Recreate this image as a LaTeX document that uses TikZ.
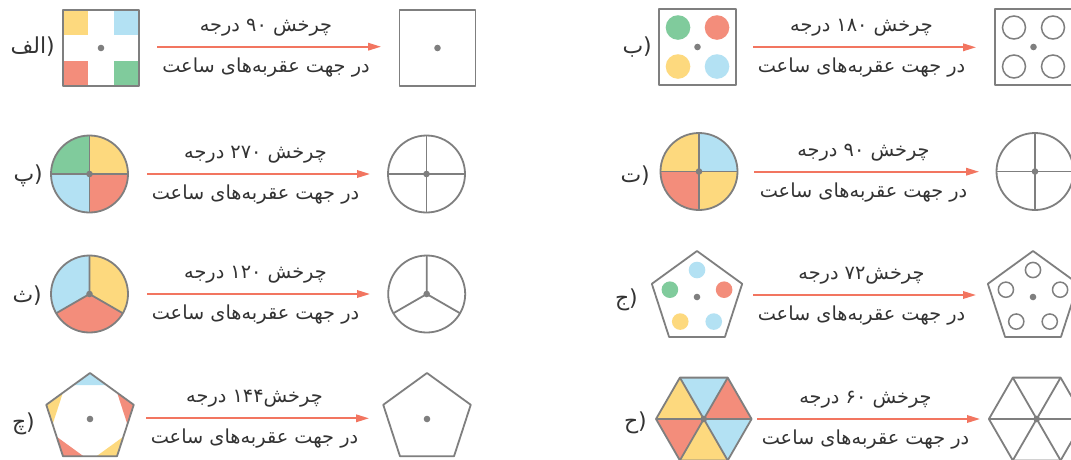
\documentclass[tikz,border=0pt]{standalone}
\usepackage{fontspec}
\newfontfamily\fa[Script=Arabic]{DejaVu Sans}
\TeXXeTstate=1
\usetikzlibrary{arrows.meta,calc}
\definecolor{cY}{HTML}{FDD97E}
\definecolor{cB}{HTML}{B3E1F3}
\definecolor{cR}{HTML}{F38D7B}
\definecolor{cG}{HTML}{80CB9C}
\definecolor{cK}{HTML}{7F7F7F}
\definecolor{cA}{HTML}{F27560}
\definecolor{cT}{HTML}{333333}
\tikzset{
 loc/.style={shift={#1},y=1pt},
 outl/.style={draw=cK,line width=1.8pt,line join=round},
 thinl/.style={draw=cK,line width=1.5pt},
 arr/.style={draw=cA,line width=1.8pt,-{Triangle[length=13pt,width=7.5pt]}},
 lab/.style={font=\fa\fontsize{22}{26}\selectfont,anchor=east,inner sep=0pt,text=cT},
 txt/.style={font=\fa\fontsize{19.3}{23}\selectfont,anchor=base,inner sep=0pt,text=cT},
}
\newcommand\ctrdot{\fill[cK] (0,0) circle[radius=3.3pt];}
\newcommand\rotarrow[5]{%
 \coordinate (#1s) at (#2,#4);
 \coordinate (#1e) at (#3,#4);
 \draw[arr] (#1s) -- (#1e);
 \node[txt] (#1t) at ({(#2+#3)/2-3},{#4-15.5}) {#5};
 \node[txt] (#1b) at ({(#2+#3)/2-3},{#4+25.5}) {\beginR در جهت عقربه‌های ساعت\endR};
}
\begin{document}
\begin{tikzpicture}[x=1pt,y=-1pt]
\clip (0,0) rectangle (1071,459);
\fill[white] (0,0) rectangle (1071,459);

% ---------- labels
\node[lab] (Lalef) at (55,47) {\beginR الف\endR(};
\node[lab] (Lbe) at (652,47) {\beginR ب\endR(};
\node[lab] (Lpe) at (43,176) {\beginR پ\endR(};
\node[lab] (Lte) at (650,176) {\beginR ت\endR(};
\node[lab] (Lse) at (42,296) {\beginR ث\endR(};
\node[lab] (Ljim) at (638,300) {\beginR ج\endR(};
\node[lab] (Lche) at (35,424) {\beginR چ\endR(};
\node[lab] (Lhe) at (647,423) {\beginR ح\endR(};

% ---------- arrows and texts
\rotarrow{a}{157}{381}{46.7}{\beginR چرخش ۹۰ درجه\endR}
\rotarrow{b}{753}{976}{47.3}{\beginR چرخش ۱۸۰ درجه\endR}
\rotarrow{p}{147}{370}{174}{\beginR چرخش ۲۷۰ درجه\endR}
\rotarrow{t}{754}{979}{171.7}{\beginR چرخش ۹۰ درجه\endR}
\rotarrow{s}{147}{370}{294}{\beginR چرخش ۱۲۰ درجه\endR}
\rotarrow{j}{753}{976}{295}{\beginR چرخش۷۲ درجه\endR}
\rotarrow{c}{146}{369}{418.3}{\beginR چرخش۱۴۴ درجه\endR}
\rotarrow{h}{757}{980}{419}{\beginR چرخش ۶۰ درجه\endR}

% ---------- row 1 left (alef)
\begin{scope}[loc={(101,48)}]
 \fill[cY] (-38,38) rectangle (-12.7,12.7);
 \fill[cB] (38,38) rectangle (12.7,12.7);
 \fill[cR] (-38,-38) rectangle (-12.7,-12.7);
 \fill[cG] (38,-38) rectangle (12.7,-12.7);
 \draw[outl] (-38,-38) rectangle (38,38);
 \ctrdot
\end{scope}
\begin{scope}[loc={(437.5,48)}]
 \draw[outl] (-38,-38) rectangle (38,38);
 \ctrdot
\end{scope}

% ---------- row 1 right (be)
\begin{scope}[loc={(697.5,47)}]
 \draw[outl] (-38.5,-38) rectangle (38.5,38);
 \fill[cG] (-19.5,19.5) circle[radius=12.3pt];
 \fill[cR] (19.5,19.5) circle[radius=12.3pt];
 \fill[cY] (-19.5,-19.5) circle[radius=12.3pt];
 \fill[cB] (19.5,-19.5) circle[radius=12.3pt];
 \ctrdot
\end{scope}
\begin{scope}[loc={(1033.5,47)}]
 \draw[outl] (-38.5,-38) rectangle (38.5,38);
 \foreach \u/\v in {-19.5/19.5,19.5/19.5,-19.5/-19.5,19.5/-19.5}
   \draw[thinl] (\u,\v) circle[radius=11.5pt];
 \ctrdot
\end{scope}

% ---------- row 2 left (pe)
\begin{scope}[loc={(89.5,174)}]
 \foreach \a/\c in {0/cY,90/cG,180/cB,270/cR}
   \fill[\c] (0,0) -- (\a:38.5) arc[start angle=\a,end angle=\a+90,radius=38.5pt] -- cycle;
 \draw[outl] (0,0) circle[radius=38.5pt];
 \draw[outl] (-38.5,0) -- (38.5,0) (0,-38.5) -- (0,38.5);
 \ctrdot
\end{scope}
\begin{scope}[loc={(426.5,174)}]
 \draw[outl] (0,0) circle[radius=38.5pt];
 \draw[outl] (-38.5,0) -- (38.5,0) (0,-38.5) -- (0,38.5);
 \ctrdot
\end{scope}

% ---------- row 2 right (te)
\begin{scope}[loc={(699,171.5)}]
 \foreach \a/\c in {0/cB,90/cY,180/cR,270/cY}
   \fill[\c] (0,0) -- (\a:38.5) arc[start angle=\a,end angle=\a+90,radius=38.5pt] -- cycle;
 \draw[outl] (0,0) circle[radius=38.5pt];
 \draw[outl] (-38.5,0) -- (38.5,0) (0,-38.5) -- (0,38.5);
 \ctrdot
\end{scope}
\begin{scope}[loc={(1035,171.5)}]
 \draw[outl] (0,0) circle[radius=38.5pt];
 \draw[outl] (-38.5,0) -- (38.5,0) (0,-38.5) -- (0,38.5);
 \ctrdot
\end{scope}

% ---------- row 3 left (se)
\begin{scope}[loc={(89.5,294)}]
 \foreach \a/\c in {90/cB,210/cR,330/cY}
   \fill[\c] (0,0) -- (\a:38.5) arc[start angle=\a,end angle=\a+120,radius=38.5pt] -- cycle;
 \draw[outl] (0,0) circle[radius=38.5pt];
 \draw[outl] (0,0) -- (90:38.5) (0,0) -- (210:38.5) (0,0) -- (330:38.5);
 \ctrdot
\end{scope}
\begin{scope}[loc={(426.7,294)}]
 \draw[outl] (0,0) circle[radius=38.5pt];
 \draw[outl] (0,0) -- (90:38.5) (0,0) -- (210:38.5) (0,0) -- (330:38.5);
 \ctrdot
\end{scope}

% ---------- row 3 right (jim)
\begin{scope}[loc={(697,298.5)}]
 \draw[outl] (90:47.5) -- (162:47.5) -- (234:47.5) -- (306:47.5) -- (18:47.5) -- cycle;
 \foreach \a/\c in {90/cB,162/cG,18/cR,234/cY,306/cB}
   \fill[\c] (\a:28.5) circle[radius=8.3pt];
 \begin{scope}[shift={(0,1.5)}]\ctrdot\end{scope}
\end{scope}
\begin{scope}[loc={(1033,298.5)}]
 \draw[outl] (90:47.5) -- (162:47.5) -- (234:47.5) -- (306:47.5) -- (18:47.5) -- cycle;
 \foreach \a in {90,162,18,234,306}
   \draw[thinl] (\a:28.5) circle[radius=7.6pt];
 \begin{scope}[shift={(0,1.5)}]\ctrdot\end{scope}
\end{scope}

% ---------- row 4 left (che)
\begin{scope}[loc={(90,419)}]
 \foreach \a/\c in {90/cB,162/cY,18/cR,234/cR,306/cY}
   \fill[\c] ($(\a:46)!0.38!(\a+72:46)$) -- (\a:46) -- ($(\a:46)!0.38!(\a-72:46)$) -- cycle;
 \draw[outl] (90:46) -- (162:46) -- (234:46) -- (306:46) -- (18:46) -- cycle;
 \ctrdot
\end{scope}
\begin{scope}[loc={(427,419)}]
 \draw[outl] (90:46) -- (162:46) -- (234:46) -- (306:46) -- (18:46) -- cycle;
 \ctrdot
\end{scope}

% ---------- row 4 right (he)
\begin{scope}[loc={(703.8,419)}]
 \foreach \a/\c in {0/cR,60/cB,120/cY,180/cR,240/cY,300/cB}
   \fill[\c] (0,0) -- (\a:47.8) -- (\a+60:47.8) -- cycle;
 \draw[outl] (0:47.8) -- (60:47.8) -- (120:47.8) -- (180:47.8) -- (240:47.8) -- (300:47.8) -- cycle;
 \draw[outl] (0:47.8) -- (180:47.8) (60:47.8) -- (240:47.8) (120:47.8) -- (300:47.8);
 \ctrdot
\end{scope}
\begin{scope}[loc={(1036.7,419)}]
 \draw[outl] (0:47.8) -- (60:47.8) -- (120:47.8) -- (180:47.8) -- (240:47.8) -- (300:47.8) -- cycle;
 \draw[outl] (0:47.8) -- (180:47.8) (60:47.8) -- (240:47.8) (120:47.8) -- (300:47.8);
 \ctrdot
\end{scope}
\end{tikzpicture}
\end{document}
